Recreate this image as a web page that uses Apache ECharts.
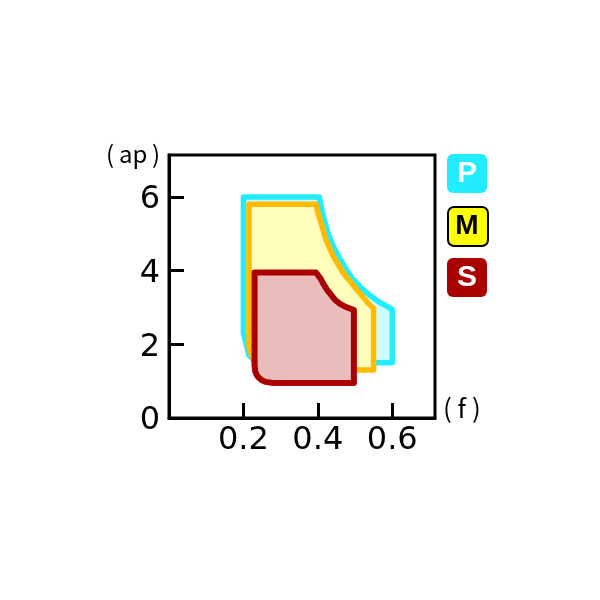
<!DOCTYPE html>
<html>
<head>
<meta charset="utf-8">
<script src="https://cdn.jsdelivr.net/npm/echarts@6/dist/echarts.min.js"></script>
<style>html,body{margin:0;padding:0;background:#fff;}#c{width:600px;height:600px;}</style>
</head>
<body>
<div id="c"></div>
<script>
// Feed (f) and depth of cut (ap) outlines of the three zones
const pF  = [0.2, 0.404, 0.41, 0.418, 0.428, 0.44, 0.455, 0.472, 0.492, 0.515, 0.54, 0.565, 0.6, 0.6, 0.235, 0.215, 0.2];
const pAp = [6.0, 6.0, 5.7, 5.35, 5.0, 4.7, 4.4, 4.1, 3.8, 3.55, 3.33, 3.15, 2.95, 1.5, 1.5, 1.7, 2.3];

const mF  = [0.215, 0.395, 0.401, 0.409, 0.422, 0.442, 0.469, 0.505, 0.536, 0.55, 0.55, 0.25, 0.232, 0.215];
const mAp = [5.8, 5.8, 5.55, 5.29, 4.83, 4.38, 3.93, 3.48, 3.11, 2.98, 1.3, 1.3, 1.45, 1.9];

const sF  = [0.23, 0.395, 0.407, 0.415, 0.425, 0.447, 0.46, 0.474, 0.497, 0.497, 0.28, 0.26, 0.247, 0.238, 0.232, 0.23];
const sAp = [3.95, 3.95, 3.79, 3.64, 3.48, 3.2, 3.1, 3.02, 2.93, 0.95, 0.95, 0.98, 1.04, 1.13, 1.25, 1.42];

const xTicks = [0.2, 0.4, 0.6];
const yTicks = [0, 2, 4, 6];
const legendNames = ['P', 'M', 'S'];

const FONT = 'DejaVu Sans';
const UNIT_FONT = 'Noto Sans CJK JP';

function zone(fs, aps, fill, stroke, w, z) {
  return {
    type: 'custom',
    coordinateSystem: 'cartesian2d',
    z: z,
    silent: true,
    data: [[fs[0], aps[0]]],
    renderItem: function (params, api) {
      const pts = fs.map((f, i) => api.coord([f, aps[i]]));
      return {
        type: 'polygon',
        shape: { points: pts },
        style: { fill: fill, stroke: stroke, lineWidth: w, lineJoin: 'round' }
      };
    }
  };
}

const chart = echarts.init(document.getElementById('c'), null, { renderer: 'canvas' });
chart.setOption({
  animation: false,
  backgroundColor: '#ffffff',
  grid: { left: 169, top: 155, width: 266, height: 263, show: true, borderColor: '#000', borderWidth: 3, backgroundColor: 'transparent' },
  xAxis: {
    type: 'value', min: 0, max: 0.715, interval: 0.2,
    axisLine: { show: true, lineStyle: { color: '#000', width: 3 } },
    axisTick: { show: true, inside: true, length: 15, lineStyle: { color: '#000', width: 3 } },
    splitLine: { show: false },
    axisLabel: {
      show: true, showMinLabel: false, showMaxLabel: false, margin: 7,
      color: '#000', fontSize: 32, fontFamily: FONT,
      formatter: v => xTicks.some(t => Math.abs(t - v) < 1e-6) ? v.toFixed(1) : ''
    }
  },
  yAxis: {
    type: 'value', min: 0, max: 7.14, interval: 2,
    axisLine: { show: true, lineStyle: { color: '#000', width: 3 } },
    axisTick: { show: true, inside: true, length: 15, lineStyle: { color: '#000', width: 3 } },
    splitLine: { show: false },
    axisLabel: {
      show: true, showMaxLabel: false, margin: 9, verticalAlign: 'top', lineHeight: 32, padding: [-13, 0, 0, 0],
      color: '#000', fontSize: 32, fontFamily: FONT,
      formatter: v => yTicks.some(t => Math.abs(t - v) < 1e-6) ? String(v) : ''
    }
  },
  series: [
    zone(pF, pAp, '#ccfcff', '#22ecff', 5.5, 2),
    zone(mF, mAp, '#ffffbb', '#ffbb00', 5.5, 3),
    zone(sF, sAp, '#ebbcbc', '#aa0000', 6, 4)
  ],
  graphic: [
    { type: 'text', left: 106, top: 142, style: { text: '(\u2009ap\u2009)', fontSize: 24, fontFamily: UNIT_FONT, fill: '#000' } },
    { type: 'text', left: 443, top: 395, style: { text: '( f )', fontSize: 26, fontFamily: UNIT_FONT, fill: '#000' } },
    { type: 'rect', left: 447, top: 154, shape: { width: 40, height: 39, r: 6 }, style: { fill: '#22ecff' } },
    { type: 'text', x: 467, y: 174, style: { text: legendNames[0], fontSize: 30, fontWeight: 'bold', fontFamily: 'Liberation Sans', fill: '#fff', align: 'center', verticalAlign: 'middle' } },
    { type: 'rect', left: 447, top: 206, shape: { width: 40, height: 39, r: 6 }, style: { fill: '#ffff00', stroke: '#000', lineWidth: 2 } },
    { type: 'text', x: 467, y: 226, style: { text: legendNames[1], fontSize: 28, fontWeight: 'bold', fontFamily: 'Liberation Sans', fill: '#000', align: 'center', verticalAlign: 'middle' } },
    { type: 'rect', left: 447, top: 258, shape: { width: 40, height: 39, r: 6 }, style: { fill: '#aa0000' } },
    { type: 'text', x: 467, y: 278, style: { text: legendNames[2], fontSize: 30, fontWeight: 'bold', fontFamily: 'Liberation Sans', fill: '#fff', align: 'center', verticalAlign: 'middle' } }
  ]
});
</script>
</body>
</html>
